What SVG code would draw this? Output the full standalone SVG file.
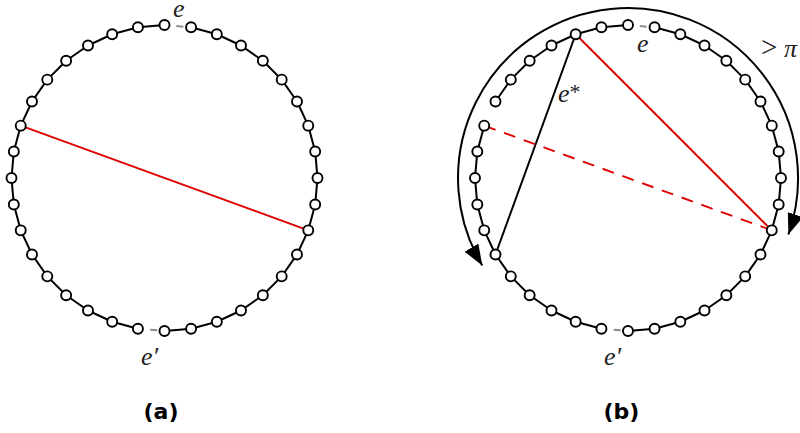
<svg xmlns="http://www.w3.org/2000/svg" width="800" height="433" viewBox="0 0 800 433">
<style>
.edge{fill:none;stroke:#000;stroke-width:2;stroke-linejoin:round}
.gap{stroke:#8c8c8c;stroke-width:2}
.node circle{fill:#fff;stroke:#000;stroke-width:1.9}
.red{stroke:#dd0000;stroke-width:1.9;fill:none}
.lbl{font-family:"Liberation Serif",serif;font-style:italic;font-size:26px;fill:#222}
.cap{font-family:"DejaVu Sans",sans-serif;font-weight:bold;font-size:22px;fill:#000;text-anchor:middle}
</style>
<defs>
<marker id="arr" viewBox="0 0 21 16" markerWidth="21" markerHeight="16" refX="21" refY="8" orient="auto-start-reverse" markerUnits="userSpaceOnUse"><path d="M0,0 L21,8 L0,16 z" fill="#000"/></marker>
</defs>
<rect width="800" height="433" fill="#fff"/>
<g id="connectors">
<polyline class="edge" points="191.07,27.32 216.83,34.23 241,45.5 262.85,60.8 281.7,79.65 297,101.5 308.27,125.67 315.18,151.43 317.5,178 315.18,204.57 308.27,230.33 297,254.5 281.7,276.35 262.85,295.2 241,310.5 216.83,321.77 191.07,328.68 164.5,331"/>
<polyline class="edge" points="137.93,328.68 112.17,321.77 88,310.5 66.15,295.2 47.3,276.35 32,254.5 20.73,230.33 13.82,204.57 11.5,178 13.82,151.43 20.73,125.67 32,101.5 47.3,79.65 66.15,60.8 88,45.5 112.17,34.23 137.93,27.32 164.5,25"/>
<line class="gap" x1="176.3" y1="26.1" x2="183.3" y2="26.7"/>
<line class="gap" x1="150.2" y1="329.7" x2="157.2" y2="330.3"/>
<line class="red" x1="20.73" y1="125.67" x2="308.27" y2="230.33"/>
<polyline class="edge" points="654.57,27.32 680.33,34.23 704.5,45.5 726.35,60.8 745.2,79.65 760.5,101.5 771.77,125.67 778.68,151.43 781,178 778.68,204.57 771.77,230.33 760.5,254.5 745.2,276.35 726.35,295.2 704.5,310.5 680.33,321.77 654.57,328.68 628,331"/>
<polyline class="edge" points="601.43,328.68 575.67,321.77 551.5,310.5 529.65,295.2 510.8,276.35 495.5,254.5 484.23,230.33 477.32,204.57 475,178 477.32,151.43 484.23,125.67"/>
<polyline class="edge" points="495.5,101.5 510.8,79.65 529.65,60.8 551.5,45.5 575.67,34.23 601.43,27.32 628,25"/>
<line class="gap" x1="639.8" y1="26.1" x2="646.8" y2="26.7"/>
<line class="gap" x1="613.7" y1="329.7" x2="620.7" y2="330.3"/>
<line class="edge" x1="575.67" y1="34.23" x2="495.5" y2="254.5" stroke-width="1.8"/>
<line class="red" x1="575.67" y1="34.23" x2="771.77" y2="230.33"/>
<line class="red" x1="484.23" y1="125.67" x2="771.77" y2="230.33" stroke-dasharray="12 9"/>
<path class="edge" d="M482.3,265.6 A170,170 0 1 1 788.4,234.5" marker-start="url(#arr)" marker-end="url(#arr)"/>
</g>
<g id="nodes-a">
<g id="a0" class="node"><circle cx="164.5" cy="25" r="5"/></g>
<g id="a1" class="node"><circle cx="191.07" cy="27.32" r="5"/></g>
<g id="a2" class="node"><circle cx="216.83" cy="34.23" r="5"/></g>
<g id="a3" class="node"><circle cx="241" cy="45.5" r="5"/></g>
<g id="a4" class="node"><circle cx="262.85" cy="60.8" r="5"/></g>
<g id="a5" class="node"><circle cx="281.7" cy="79.65" r="5"/></g>
<g id="a6" class="node"><circle cx="297" cy="101.5" r="5"/></g>
<g id="a7" class="node"><circle cx="308.27" cy="125.67" r="5"/></g>
<g id="a8" class="node"><circle cx="315.18" cy="151.43" r="5"/></g>
<g id="a9" class="node"><circle cx="317.5" cy="178" r="5"/></g>
<g id="a10" class="node"><circle cx="315.18" cy="204.57" r="5"/></g>
<g id="a11" class="node"><circle cx="308.27" cy="230.33" r="5"/></g>
<g id="a12" class="node"><circle cx="297" cy="254.5" r="5"/></g>
<g id="a13" class="node"><circle cx="281.7" cy="276.35" r="5"/></g>
<g id="a14" class="node"><circle cx="262.85" cy="295.2" r="5"/></g>
<g id="a15" class="node"><circle cx="241" cy="310.5" r="5"/></g>
<g id="a16" class="node"><circle cx="216.83" cy="321.77" r="5"/></g>
<g id="a17" class="node"><circle cx="191.07" cy="328.68" r="5"/></g>
<g id="a18" class="node"><circle cx="164.5" cy="331" r="5"/></g>
<g id="a19" class="node"><circle cx="137.93" cy="328.68" r="5"/></g>
<g id="a20" class="node"><circle cx="112.17" cy="321.77" r="5"/></g>
<g id="a21" class="node"><circle cx="88" cy="310.5" r="5"/></g>
<g id="a22" class="node"><circle cx="66.15" cy="295.2" r="5"/></g>
<g id="a23" class="node"><circle cx="47.3" cy="276.35" r="5"/></g>
<g id="a24" class="node"><circle cx="32" cy="254.5" r="5"/></g>
<g id="a25" class="node"><circle cx="20.73" cy="230.33" r="5"/></g>
<g id="a26" class="node"><circle cx="13.82" cy="204.57" r="5"/></g>
<g id="a27" class="node"><circle cx="11.5" cy="178" r="5"/></g>
<g id="a28" class="node"><circle cx="13.82" cy="151.43" r="5"/></g>
<g id="a29" class="node"><circle cx="20.73" cy="125.67" r="5"/></g>
<g id="a30" class="node"><circle cx="32" cy="101.5" r="5"/></g>
<g id="a31" class="node"><circle cx="47.3" cy="79.65" r="5"/></g>
<g id="a32" class="node"><circle cx="66.15" cy="60.8" r="5"/></g>
<g id="a33" class="node"><circle cx="88" cy="45.5" r="5"/></g>
<g id="a34" class="node"><circle cx="112.17" cy="34.23" r="5"/></g>
<g id="a35" class="node"><circle cx="137.93" cy="27.32" r="5"/></g>
</g>
<g id="nodes-b">
<g id="b0" class="node"><circle cx="628" cy="25" r="5"/></g>
<g id="b1" class="node"><circle cx="654.57" cy="27.32" r="5"/></g>
<g id="b2" class="node"><circle cx="680.33" cy="34.23" r="5"/></g>
<g id="b3" class="node"><circle cx="704.5" cy="45.5" r="5"/></g>
<g id="b4" class="node"><circle cx="726.35" cy="60.8" r="5"/></g>
<g id="b5" class="node"><circle cx="745.2" cy="79.65" r="5"/></g>
<g id="b6" class="node"><circle cx="760.5" cy="101.5" r="5"/></g>
<g id="b7" class="node"><circle cx="771.77" cy="125.67" r="5"/></g>
<g id="b8" class="node"><circle cx="778.68" cy="151.43" r="5"/></g>
<g id="b9" class="node"><circle cx="781" cy="178" r="5"/></g>
<g id="b10" class="node"><circle cx="778.68" cy="204.57" r="5"/></g>
<g id="b11" class="node"><circle cx="771.77" cy="230.33" r="5"/></g>
<g id="b12" class="node"><circle cx="760.5" cy="254.5" r="5"/></g>
<g id="b13" class="node"><circle cx="745.2" cy="276.35" r="5"/></g>
<g id="b14" class="node"><circle cx="726.35" cy="295.2" r="5"/></g>
<g id="b15" class="node"><circle cx="704.5" cy="310.5" r="5"/></g>
<g id="b16" class="node"><circle cx="680.33" cy="321.77" r="5"/></g>
<g id="b17" class="node"><circle cx="654.57" cy="328.68" r="5"/></g>
<g id="b18" class="node"><circle cx="628" cy="331" r="5"/></g>
<g id="b19" class="node"><circle cx="601.43" cy="328.68" r="5"/></g>
<g id="b20" class="node"><circle cx="575.67" cy="321.77" r="5"/></g>
<g id="b21" class="node"><circle cx="551.5" cy="310.5" r="5"/></g>
<g id="b22" class="node"><circle cx="529.65" cy="295.2" r="5"/></g>
<g id="b23" class="node"><circle cx="510.8" cy="276.35" r="5"/></g>
<g id="b24" class="node"><circle cx="495.5" cy="254.5" r="5"/></g>
<g id="b25" class="node"><circle cx="484.23" cy="230.33" r="5"/></g>
<g id="b26" class="node"><circle cx="477.32" cy="204.57" r="5"/></g>
<g id="b27" class="node"><circle cx="475" cy="178" r="5"/></g>
<g id="b28" class="node"><circle cx="477.32" cy="151.43" r="5"/></g>
<g id="b29" class="node"><circle cx="484.23" cy="125.67" r="5"/></g>
<g id="b30" class="node"><circle cx="495.5" cy="101.5" r="5"/></g>
<g id="b31" class="node"><circle cx="510.8" cy="79.65" r="5"/></g>
<g id="b32" class="node"><circle cx="529.65" cy="60.8" r="5"/></g>
<g id="b33" class="node"><circle cx="551.5" cy="45.5" r="5"/></g>
<g id="b34" class="node"><circle cx="575.67" cy="34.23" r="5"/></g>
<g id="b35" class="node"><circle cx="601.43" cy="27.32" r="5"/></g>
</g>
<g id="labels">
<text class="lbl" x="173" y="17">e</text>
<text class="lbl" x="141" y="365">e′</text>
<text class="lbl" x="637" y="52">e</text>
<text class="lbl" x="558" y="102">e<tspan font-style="normal" font-size="22" dy="-3">*</tspan></text>
<text class="lbl" x="604" y="365">e′</text>
<text class="lbl" x="761" y="57"><tspan font-style="normal" font-size="29">&gt;</tspan><tspan x="784">π</tspan></text>
<text class="cap" x="161" y="419">(a)</text>
<text class="cap" x="621.5" y="419">(b)</text>
</g>
</svg>
